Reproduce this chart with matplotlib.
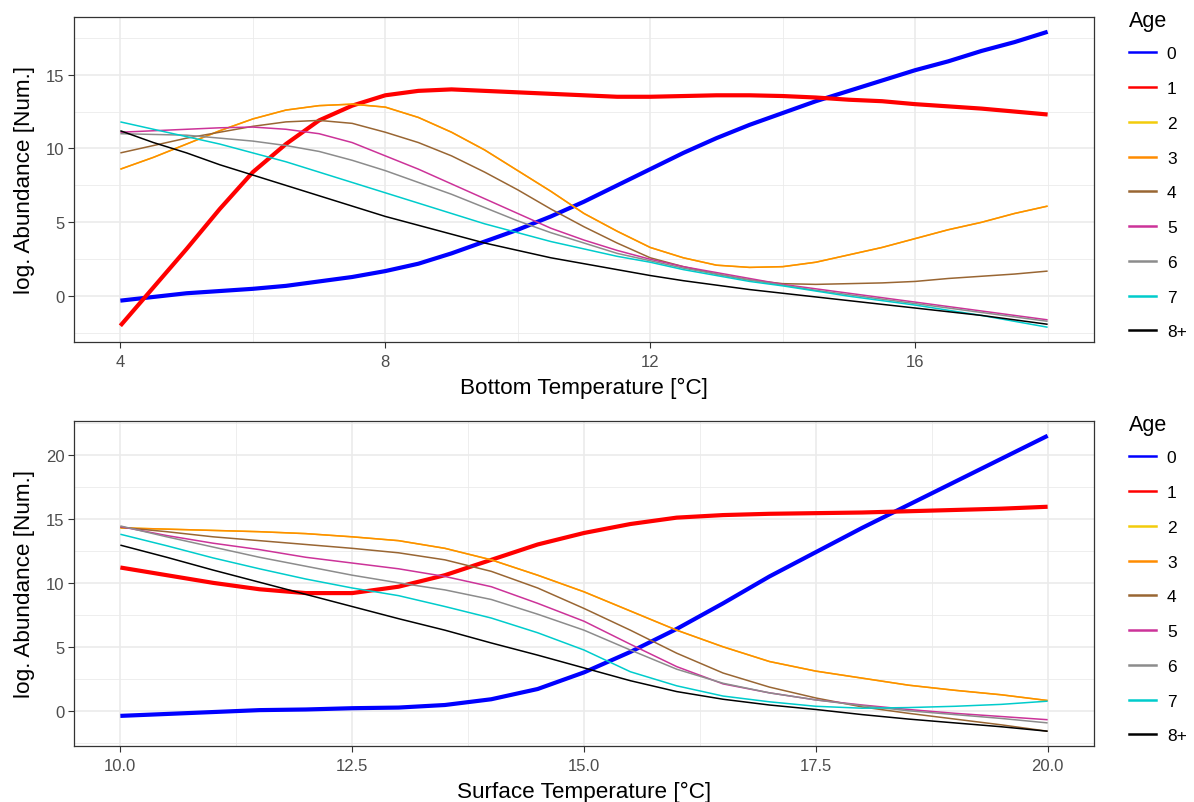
import numpy as np
import matplotlib
matplotlib.use("Agg")
import matplotlib.pyplot as plt
from matplotlib.lines import Line2D

plt.rcParams["font.family"] = ["Liberation Sans", "DejaVu Sans"]

# ---- data -------------------------------------------------------------
ages = ["0", "1", "2", "3", "4", "5", "6", "7", "8+"]
colors = ["#0000FF", "#FF0000", "#F2CC0C", "#FF8C00", "#996633",
          "#CC3399", "#8C8C8C", "#00CCCC", "#000000"]

bottom_temp = np.arange(4, 18.01, 0.5)
bottom_vals = {
    "0": [-0.3, -0.05, 0.2, 0.35, 0.5, 0.7, 1.0, 1.3, 1.7, 2.2, 2.9, 3.7, 4.5, 5.4, 6.4,
          7.5, 8.6, 9.7, 10.7, 11.6, 12.4, 13.2, 13.9, 14.6, 15.3, 15.9, 16.6, 17.2, 17.9],
    "1": [-2.0, 0.6, 3.2, 5.9, 8.4, 10.3, 11.9, 12.9, 13.6, 13.9, 14.0, 13.9, 13.8, 13.7, 13.6,
          13.5, 13.5, 13.55, 13.6, 13.6, 13.55, 13.45, 13.3, 13.2, 13.0, 12.85, 12.7, 12.5, 12.3],
    "2": [8.6, 9.4, 10.3, 11.2, 12.0, 12.6, 12.9, 13.0, 12.8, 12.1, 11.1, 9.9, 8.5, 7.1, 5.6,
          4.4, 3.3, 2.6, 2.1, 1.95, 2.0, 2.3, 2.8, 3.3, 3.9, 4.5, 5.0, 5.6, 6.1],
    "3": [8.6, 9.4, 10.3, 11.2, 12.0, 12.6, 12.9, 13.0, 12.8, 12.1, 11.1, 9.9, 8.5, 7.1, 5.6,
          4.4, 3.3, 2.6, 2.1, 1.95, 2.0, 2.3, 2.8, 3.3, 3.9, 4.5, 5.0, 5.6, 6.1],
    "4": [9.7, 10.2, 10.7, 11.1, 11.5, 11.8, 11.9, 11.7, 11.1, 10.4, 9.5, 8.4, 7.2, 5.9, 4.7,
          3.6, 2.6, 2.0, 1.5, 1.1, 0.85, 0.8, 0.85, 0.9, 1.0, 1.2, 1.35, 1.5, 1.7],
    "5": [11.1, 11.2, 11.3, 11.4, 11.45, 11.3, 11.0, 10.4, 9.5, 8.6, 7.6, 6.6, 5.6, 4.6, 3.8,
          3.1, 2.5, 2.0, 1.6, 1.2, 0.8, 0.5, 0.2, -0.1, -0.4, -0.7, -1.0, -1.3, -1.6],
    "6": [11.0, 10.95, 10.9, 10.7, 10.5, 10.2, 9.8, 9.2, 8.5, 7.7, 6.9, 6.0, 5.1, 4.3, 3.6,
          2.9, 2.4, 1.9, 1.5, 1.1, 0.75, 0.4, 0.1, -0.2, -0.5, -0.8, -1.1, -1.4, -1.7],
    "7": [11.8, 11.3, 10.8, 10.3, 9.7, 9.1, 8.4, 7.7, 7.0, 6.3, 5.6, 4.9, 4.3, 3.7, 3.2,
          2.7, 2.3, 1.8, 1.4, 1.0, 0.7, 0.35, 0.0, -0.3, -0.6, -0.95, -1.3, -1.7, -2.1],
    "8+": [11.2, 10.4, 9.7, 8.9, 8.2, 7.5, 6.8, 6.1, 5.4, 4.8, 4.2, 3.6, 3.1, 2.6, 2.2,
           1.8, 1.4, 1.05, 0.75, 0.45, 0.2, -0.05, -0.3, -0.55, -0.8, -1.05, -1.3, -1.6, -1.9],
}

surface_temp = np.arange(10, 20.01, 0.5)
surface_vals = {
    "0": [-0.4, -0.25, -0.1, 0.05, 0.1, 0.2, 0.25, 0.45, 0.9, 1.7, 3.0,
          4.6, 6.4, 8.4, 10.5, 12.4, 14.3, 16.1, 17.9, 19.7, 21.5],
    "1": [11.2, 10.6, 10.0, 9.5, 9.2, 9.2, 9.7, 10.6, 11.8, 13.0, 13.9,
          14.6, 15.1, 15.3, 15.4, 15.45, 15.5, 15.6, 15.7, 15.8, 15.95],
    "2": [14.3, 14.2, 14.1, 14.0, 13.85, 13.6, 13.3, 12.7, 11.8, 10.6, 9.3,
          7.8, 6.3, 5.0, 3.85, 3.1, 2.55, 2.0, 1.6, 1.25, 0.8],
    "3": [14.3, 14.2, 14.1, 14.0, 13.85, 13.6, 13.3, 12.7, 11.8, 10.6, 9.3,
          7.8, 6.3, 5.0, 3.85, 3.1, 2.55, 2.0, 1.6, 1.25, 0.8],
    "4": [14.35, 14.0, 13.6, 13.3, 13.0, 12.7, 12.35, 11.8, 10.9, 9.6, 8.0,
          6.3, 4.5, 2.95, 1.85, 1.0, 0.3, -0.2, -0.65, -1.1, -1.6],
    "5": [14.4, 13.7, 13.1, 12.6, 12.0, 11.55, 11.1, 10.5, 9.7, 8.4, 7.0,
          5.2, 3.45, 2.1, 1.4, 0.85, 0.45, 0.1, -0.2, -0.45, -0.7],
    "6": [14.45, 13.6, 12.8, 12.0, 11.3, 10.6, 10.0, 9.45, 8.7, 7.55, 6.3,
          4.75, 3.25, 2.15, 1.4, 0.85, 0.4, 0.0, -0.3, -0.6, -0.95],
    "7": [13.8, 12.9, 11.95, 11.1, 10.3, 9.6, 9.0, 8.15, 7.25, 6.1, 4.75,
          3.05, 1.95, 1.15, 0.7, 0.35, 0.2, 0.25, 0.35, 0.5, 0.75],
    "8+": [12.95, 12.0, 11.0, 10.05, 9.1, 8.15, 7.2, 6.3, 5.3, 4.35, 3.35,
           2.35, 1.5, 0.9, 0.45, 0.1, -0.3, -0.65, -0.95, -1.25, -1.6],
}

bottom_xticks = [4, 8, 12, 16]
bottom_xminor = [6, 10, 14, 18]
bottom_yticks = [0, 5, 10, 15]
bottom_yminor = [-2.5, 2.5, 7.5, 12.5, 17.5]
surface_xticks = [10.0, 12.5, 15.0, 17.5, 20.0]
surface_xminor = [11.25, 13.75, 16.25, 18.75]
surface_yticks = [0, 5, 10, 15, 20]
surface_yminor = [-2.5, 2.5, 7.5, 12.5, 17.5, 22.5]

# ---- figure -----------------------------------------------------------
W, H = 1194, 803
fig = plt.figure(figsize=(W / 100, H / 100), dpi=100)

GRID = "#EBEBEB"
BORDER = "#333333"
TICKTXT = "#4D4D4D"


def px_axes(left, top, right, bottom):
    return fig.add_axes([left / W, 1 - bottom / H, (right - left) / W, (bottom - top) / H])


def panel(ax, x, vals, xlabel, xticks, xminor, yticks, yminor, xfmt):
    for v in xminor:
        ax.axvline(v, color=GRID, lw=0.6, zorder=0)
    for v in yminor:
        ax.axhline(v, color=GRID, lw=0.6, zorder=0)
    for v in xticks:
        ax.axvline(v, color=GRID, lw=1.2, zorder=0)
    for v in yticks:
        ax.axhline(v, color=GRID, lw=1.2, zorder=0)
    for age, col in zip(ages, colors):
        lw = 3.0 if age in ("0", "1") else 1.1
        ax.plot(x, vals[age], color=col, lw=lw, solid_capstyle="butt", zorder=2)
    allv = np.concatenate([np.asarray(v, float) for v in vals.values()])
    xr = x.max() - x.min()
    yr = allv.max() - allv.min()
    ax.set_xlim(x.min() - 0.05 * xr, x.max() + 0.05 * xr)
    ax.set_ylim(allv.min() - 0.05 * yr, allv.max() + 0.05 * yr)
    ax.set_xticks(xticks)
    ax.set_xticklabels([xfmt(t) for t in xticks])
    ax.set_yticks(yticks)
    ax.set_yticklabels([str(t) for t in yticks])
    ax.tick_params(axis="both", direction="out", length=4, width=0.8, color=BORDER,
                   labelcolor=TICKTXT, labelsize=12, pad=3)
    ax.tick_params(axis="x", pad=5)
    for s in ax.spines.values():
        s.set_color(BORDER)
        s.set_linewidth(0.9)
    ax.set_xlabel(xlabel, fontsize=16.2, labelpad=5)
    ax.set_ylabel("log. Abundance [Num.]", fontsize=16.2, labelpad=8)

    handles = [Line2D([], [], color=c, lw=1.8) for c in colors]
    leg = ax.legend(handles, ages, title="Age", loc="upper left",
                    bbox_to_anchor=(1.034, 1.021), frameon=False, fontsize=12.5,
                    title_fontsize=15.5, handlelength=1.6, handletextpad=0.6,
                    labelspacing=1.13, borderaxespad=0, borderpad=0)
    leg._legend_box.align = "left"
    leg._legend_box.sep = 10.8  # tighter gap between title and keys


ax1 = px_axes(74, 18, 1094, 343)
panel(ax1, bottom_temp, bottom_vals, "Bottom Temperature [°C]",
      bottom_xticks, bottom_xminor, bottom_yticks, bottom_yminor, lambda t: f"{t:d}")

ax2 = px_axes(74, 422, 1094, 747)
panel(ax2, surface_temp, surface_vals, "Surface Temperature [°C]",
      surface_xticks, surface_xminor, surface_yticks, surface_yminor, lambda t: f"{t:.1f}")

fig.savefig("out.png", dpi=100)
